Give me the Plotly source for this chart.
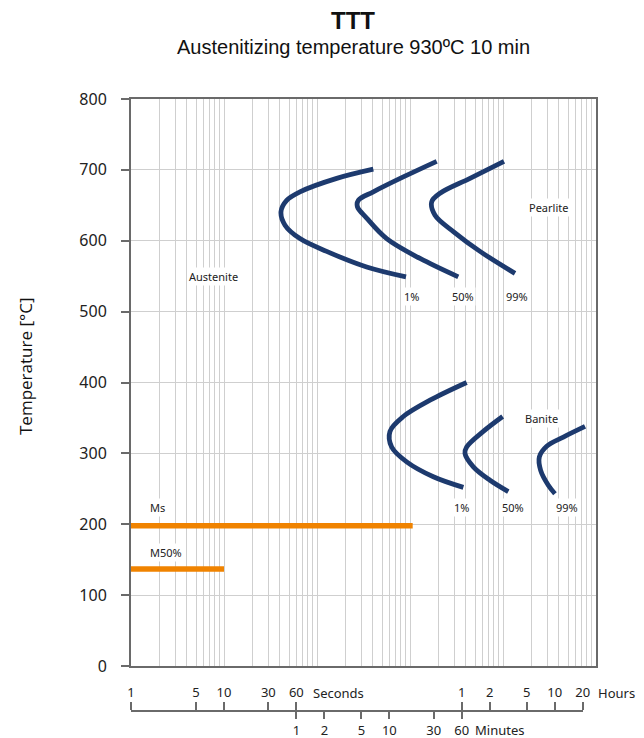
import math
import plotly.graph_objects as go

# ---------------- data ----------------
# Pearlite start/50%/finish curves: time [s], temperature [°C]
pearlite_1_t = [403, 163, 65.6, 47.2, 41, 45.3, 65.6, 127, 342, 906]
pearlite_1_T = [701, 688, 669, 657, 641, 622, 603, 585, 563, 549]
pearlite_50_t = [1936, 847, 403, 278, 272, 342, 561, 1282, 3304]
pearlite_50_T = [712, 690, 669, 657, 648, 632, 603, 575, 549]
pearlite_99_t = [10250, 4418, 2103, 1711, 1857, 2925, 5661, 13460]
pearlite_99_T = [712, 688, 667, 655, 636, 613, 585, 554]

# Bainite curves
bainite_1_t = [4066, 1641, 847, 609, 635, 921, 1782, 3749]
bainite_1_T = [400, 375, 352, 331, 309, 288, 267, 252]
bainite_50_t = [9911, 6140, 4066, 3900, 4799, 7246, 11400]
bainite_50_T = [352, 331, 309, 300, 281, 262, 246]
bainite_99_t = [76200, 44600, 29500, 24600, 25400, 30700, 36200]
bainite_99_T = [338, 323, 310, 295, 276, 255, 243]

# Martensite lines
ms_t = [1, 1069]
ms_T = [198, 198]
m50_t = [1, 10]
m50_T = [137, 137]

# Text labels: (text, time [s], temperature)
region_labels = [
    ("Austenite", 7.7, 549),
    ("Pearlite", 30700, 647),
    ("1%", 1042, 522),
    ("50%", 3750, 522),
    ("99%", 14030, 522),
    ("Banite", 26000, 349),
    ("1%", 3590, 224),
    ("50%", 12700, 224),
    ("99%", 48400, 224),
]
martensite_labels = [("Ms", 1.52, 224), ("M50%", 1.52, 160)]

# Secondary time scales
sec_hour_vals = [1, 5, 10, 30, 60, 3600, 7200, 18000, 36000, 72000]
sec_hour_text = ["1", "5", "10", "30", "60", "1", "2", "5", "10", "20"]
minute_vals = [60, 120, 300, 600, 1800, 3600]
minute_text = ["1", "2", "5", "10", "30", "60"]

y_ticks = [0, 100, 200, 300, 400, 500, 600, 700, 800]
x_max = 1e5
scale_max = 72000

# ---------------- styling ----------------
BLUE = "#1d3a6e"
ORANGE = "#f08300"
AXIS = "#6a6a6a"
GRID = "#cfcfcf"
TXT = "#222222"

W, H = 644, 738
ML, MR, MT, MB = 131, 48, 99, 10
plot_h = H - MT - MB
plot_w = W - ML - MR


def py(pix):
    return (H - MB - pix) / plot_h


def px(pix):
    return (pix - ML) / plot_w


fig = go.Figure()

for t, T in [(pearlite_1_t, pearlite_1_T), (pearlite_50_t, pearlite_50_T),
             (pearlite_99_t, pearlite_99_T), (bainite_1_t, bainite_1_T),
             (bainite_50_t, bainite_50_T), (bainite_99_t, bainite_99_T)]:
    fig.add_trace(go.Scatter(x=t, y=T, mode="lines",
                             line=dict(color=BLUE, width=4.8, shape="spline", smoothing=1.0),
                             hoverinfo="skip", showlegend=False))

for t, T in [(ms_t, ms_T), (m50_t, m50_T)]:
    fig.add_trace(go.Scatter(x=t, y=T, mode="lines",
                             line=dict(color=ORANGE, width=5.5),
                             hoverinfo="skip", showlegend=False))

# grid values for log axis (1..9 per decade)
grid_vals = []
for k in range(int(math.log10(x_max))):
    for m in range(1, 10):
        grid_vals.append(m * 10 ** k)
grid_vals.append(x_max)

y_dom0 = py(666)
scale_frac = math.log10(scale_max) / math.log10(x_max)
scale_pos = py(711)

fig.update_layout(
    width=W, height=H,
    margin=dict(l=ML, r=MR, t=MT, b=MB),
    paper_bgcolor="white", plot_bgcolor="rgba(0,0,0,0)",
    showlegend=False,
    xaxis=dict(type="log", range=[0, math.log10(x_max)], domain=[0, 1],
               tickvals=grid_vals, showticklabels=False, ticks="",
               showgrid=True, gridcolor=GRID, gridwidth=1,
               showline=True, linecolor=AXIS, linewidth=2, mirror=True,
               zeroline=False, anchor="y", automargin=False),
    xaxis2=dict(type="log", range=[0, math.log10(scale_max)], domain=[0, scale_frac],
                anchor="free", position=scale_pos, side="top",
                tickvals=sec_hour_vals, ticktext=sec_hour_text,
                ticks="outside", ticklen=8, tickwidth=2, tickcolor=AXIS,
                showline=True, linecolor=AXIS, linewidth=2, showgrid=False,
                zeroline=False, automargin=False,
                tickfont=dict(family="Noto Sans", size=13, color=TXT)),
    xaxis3=dict(type="log", range=[0, math.log10(scale_max)], domain=[0, scale_frac],
                anchor="free", position=scale_pos, side="bottom",
                tickvals=minute_vals, ticktext=minute_text,
                ticks="outside", ticklen=7, tickwidth=2, tickcolor=AXIS,
                showline=False, showgrid=False, zeroline=False, automargin=False,
                tickfont=dict(family="Noto Sans", size=13, color="#222222")),
    yaxis=dict(range=[0, 800], domain=[y_dom0, 1], tickvals=y_ticks,
               showgrid=True, gridcolor=GRID, gridwidth=1,
               ticks="outside", ticklen=8, tickwidth=2, tickcolor=AXIS,
               showline=True, linecolor=AXIS, linewidth=2, mirror=True,
               zeroline=False, ticklabelstandoff=11, automargin=False,
               tickfont=dict(family="Noto Sans", size=16, color=TXT)),
    yaxis2=dict(range=[0, 800], overlaying="y", visible=False, showgrid=False,
                zeroline=False, automargin=False),
)

# empty traces that carry the secondary time scales
fig.add_trace(go.Scatter(x=[], y=[], xaxis="x2", yaxis="y2", showlegend=False, hoverinfo="skip"))
fig.add_trace(go.Scatter(x=[], y=[], xaxis="x3", yaxis="y2", showlegend=False, hoverinfo="skip"))

for text, t, T in region_labels:
    fig.add_annotation(x=math.log10(t), y=T, xref="x", yref="y", text=text,
                       showarrow=False, bgcolor="white", borderpad=1,
                       xanchor="center", yanchor="middle",
                       font=dict(family="Noto Sans", size=11, color=TXT))
for text, t, T in martensite_labels:
    fig.add_annotation(x=math.log10(t), y=T, xref="x", yref="y", text=text,
                       showarrow=False, xanchor="left", yanchor="middle",
                       bgcolor="white", borderpad=1,
                       font=dict(family="Noto Sans", size=11, color=TXT))

# unit labels of the bottom scales
fig.add_annotation(x=px(311), y=py(693), xref="paper", yref="paper", text="Seconds",
                   xanchor="left", yanchor="middle", showarrow=False,
                   font=dict(family="Noto Sans", size=13, color=TXT))
fig.add_annotation(x=px(596), y=py(693), xref="paper", yref="paper", text="Hours",
                   xanchor="left", yanchor="middle", showarrow=False,
                   font=dict(family="Noto Sans", size=13, color=TXT))
fig.add_annotation(x=px(473), y=py(730), xref="paper", yref="paper", text="Minutes",
                   xanchor="left", yanchor="middle", showarrow=False,
                   font=dict(family="Noto Sans", size=13, color=TXT))

# titles
fig.add_annotation(x=px(353), y=py(20), xref="paper", yref="paper", text="<b>TTT</b>",
                   xanchor="center", yanchor="middle", showarrow=False,
                   font=dict(family="Liberation Sans", size=24, color="#111"))
fig.add_annotation(x=px(353), y=py(47), xref="paper", yref="paper",
                   text="Austenitizing temperature 930ºC 10 min",
                   xanchor="center", yanchor="middle", showarrow=False,
                   font=dict(family="Liberation Sans", size=20, color="#111"))
fig.add_annotation(x=px(25), y=py(366), xref="paper", yref="paper",
                   text="Temperature [°C]", textangle=-90,
                   xanchor="center", yanchor="middle", showarrow=False,
                   font=dict(family="Open Sans", size=17, color="#111"))

fig.write_html("out.html")
